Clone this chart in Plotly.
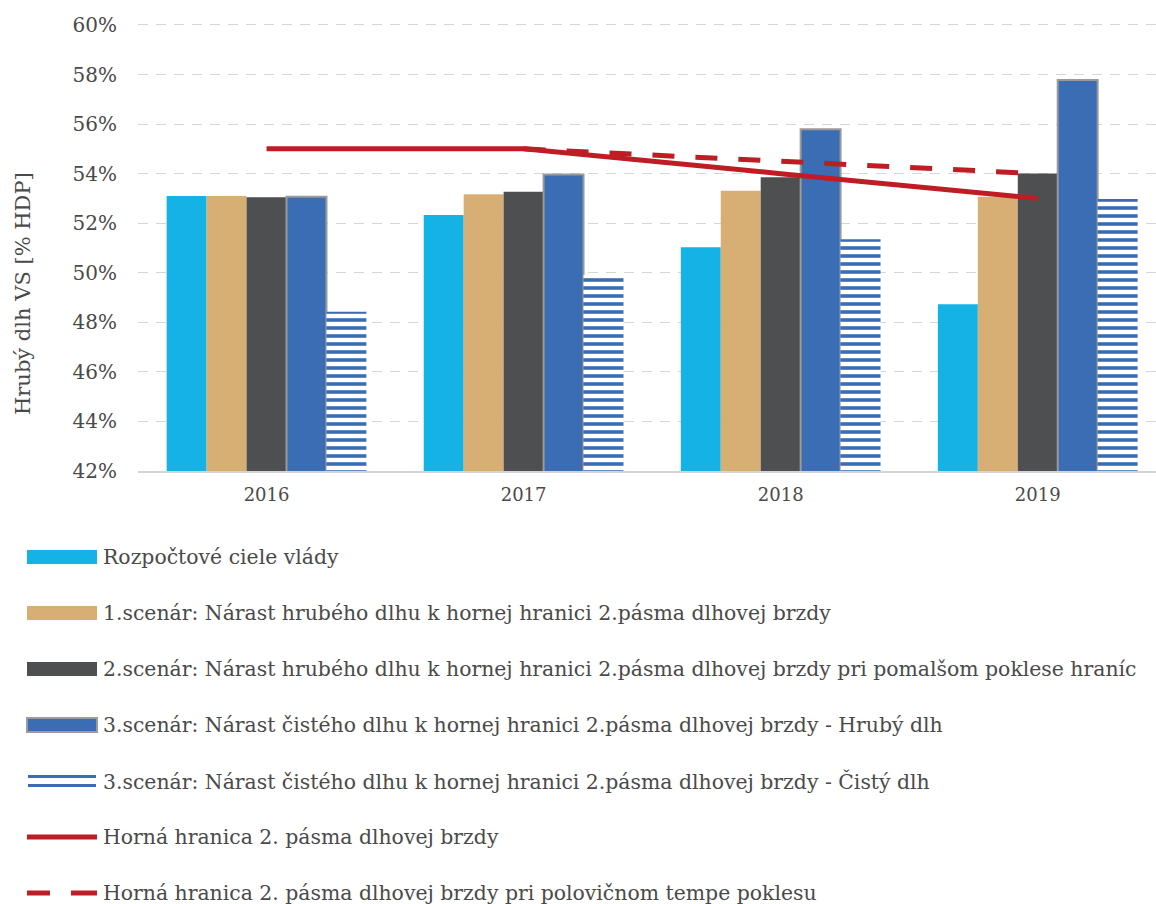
import plotly.graph_objects as go

years = ["2016", "2017", "2018", "2019"]
ciele = [53.10, 52.33, 51.03, 48.73]
scen1 = [53.10, 53.17, 53.31, 53.07]
scen2 = [53.05, 53.27, 53.85, 54.01]
scen3_hruby = [53.07, 53.97, 55.79, 57.78]
scen3_cisty = [48.43, 49.91, 51.35, 52.98]
hranica = [55.0, 55.0, 54.0, 53.0]
hranica_pol_years = ["2017", "2018", "2019"]
hranica_pol = [55.0, 54.5, 54.0]

names = [
    "Rozpočtové ciele vlády",
    "1.scenár: Nárast hrubého dlhu k hornej hranici 2.pásma dlhovej brzdy",
    "2.scenár: Nárast hrubého dlhu k hornej hranici 2.pásma dlhovej brzdy pri pomalšom poklese hraníc",
    "3.scenár: Nárast čistého dlhu k hornej hranici 2.pásma dlhovej brzdy - Hrubý dlh",
    "3.scenár: Nárast čistého dlhu k hornej hranici 2.pásma dlhovej brzdy - Čistý dlh",
    "Horná hranica 2. pásma dlhovej brzdy",
    "Horná hranica 2. pásma dlhovej brzdy pri polovičnom tempe poklesu",
]
y_ticks = [42, 44, 46, 48, 50, 52, 54, 56, 58, 60]
y_ticklabels = [f"{v}%" for v in y_ticks]

C_CYAN = "#15b2e6"
C_TAN = "#d7af74"
C_DARK = "#4e4f51"
C_BLUE = "#3b6db5"
C_RED = "#bf1c24"
FONT = "DejaVu Serif"
TXT = "#4a4a4a"

fig = go.Figure()
fig.add_bar(x=years, y=ciele, name=names[0], marker=dict(color=C_CYAN, line=dict(width=0)))
fig.add_bar(x=years, y=scen1, name=names[1], marker=dict(color=C_TAN, line=dict(width=0)))
fig.add_bar(x=years, y=scen2, name=names[2], marker=dict(color=C_DARK, line=dict(width=0)))
fig.add_bar(x=years, y=scen3_hruby, name=names[3],
            marker=dict(color=C_BLUE, line=dict(color="#9a9a9a", width=2)))
fig.add_bar(x=years, y=scen3_cisty, name=names[4],
            marker=dict(color="white", line=dict(width=0),
                        pattern=dict(shape="-", fgcolor=C_BLUE, bgcolor="white",
                                     size=8, solidity=0.45, fillmode="replace")))
fig.add_scatter(x=years, y=hranica, name=names[5], mode="lines",
                line=dict(color=C_RED, width=5))
fig.add_scatter(x=hranica_pol_years, y=hranica_pol, name=names[6], mode="lines",
                line=dict(color=C_RED, width=5, dash="22px,21px"))

# plot domain in pixels
L, R, T, B = 138, 1156, 20, 471
W, H = R - L, B - T

def px(x):
    return (x - L) / W

def py(y):
    return (B - y) / H

shapes = []
annotations = []
leg_y0 = 557
leg_step = 56
sx0, sx1 = 27, 97
for i, nm in enumerate(names):
    yc = leg_y0 + i * leg_step
    if i in (0, 1, 2, 3):
        col = [C_CYAN, C_TAN, C_DARK, C_BLUE][i]
        lc = "#9a9a9a" if i == 3 else col
        lw = 2 if i == 3 else 0
        shapes.append(dict(type="rect", xref="paper", yref="paper",
                           x0=px(sx0), x1=px(sx1), y0=py(yc - 7), y1=py(yc + 7),
                           fillcolor=col, line=dict(color=lc, width=lw)))
    elif i == 4:
        for dy in (-4.5, 4.5):
            shapes.append(dict(type="line", xref="paper", yref="paper",
                               x0=px(sx0 + 1), x1=px(sx1 - 1), y0=py(yc + dy), y1=py(yc + dy),
                               line=dict(color=C_BLUE, width=3)))
    elif i == 5:
        shapes.append(dict(type="line", xref="paper", yref="paper",
                           x0=px(sx0), x1=px(sx1), y0=py(yc), y1=py(yc),
                           line=dict(color=C_RED, width=5)))
    else:
        for a, b in ((sx0, sx0 + 23), (sx0 + 44, sx1)):
            shapes.append(dict(type="line", xref="paper", yref="paper",
                               x0=px(a), x1=px(b), y0=py(yc), y1=py(yc),
                               line=dict(color=C_RED, width=5)))
    annotations.append(dict(text=nm, xref="paper", yref="paper", x=px(101), y=py(yc),
                            xanchor="left", yanchor="middle", showarrow=False,
                            font=dict(family=FONT, size=20.4, color=TXT)))

annotations.append(dict(text="Hrubý dlh VS [% HDP]", xref="paper", yref="paper",
                        x=px(23), y=py(294), xanchor="center", yanchor="middle",
                        textangle=-90, showarrow=False,
                        font=dict(family=FONT, size=21, color=TXT)))

fig.update_layout(
    width=1156, height=904, autosize=False,
    margin=dict(l=L, r=1156 - R, t=T, b=904 - B, pad=0),
    plot_bgcolor="white", paper_bgcolor="white",
    barmode="group", bargap=0.223, bargroupgap=0,
    showlegend=False,
    font=dict(family=FONT, size=20, color=TXT),
    shapes=shapes, annotations=annotations,
)
fig.update_xaxes(type="category", range=[-0.5, 3.46], showgrid=False, showline=True,
                 linecolor="#d4d4d4", linewidth=2, ticks="", ticklabelstandoff=6,
                 tickfont=dict(family=FONT, size=18, color=TXT))
fig.update_yaxes(range=[42, 60.2], tickvals=y_ticks, ticktext=y_ticklabels,
                 showgrid=True, gridcolor="#d6d6d6", gridwidth=1.2, griddash="10px,8px",
                 zeroline=False, showline=False, ticks="", ticklabelstandoff=20,
                 tickfont=dict(family=FONT, size=20, color=TXT))

fig.write_html("out.html")
